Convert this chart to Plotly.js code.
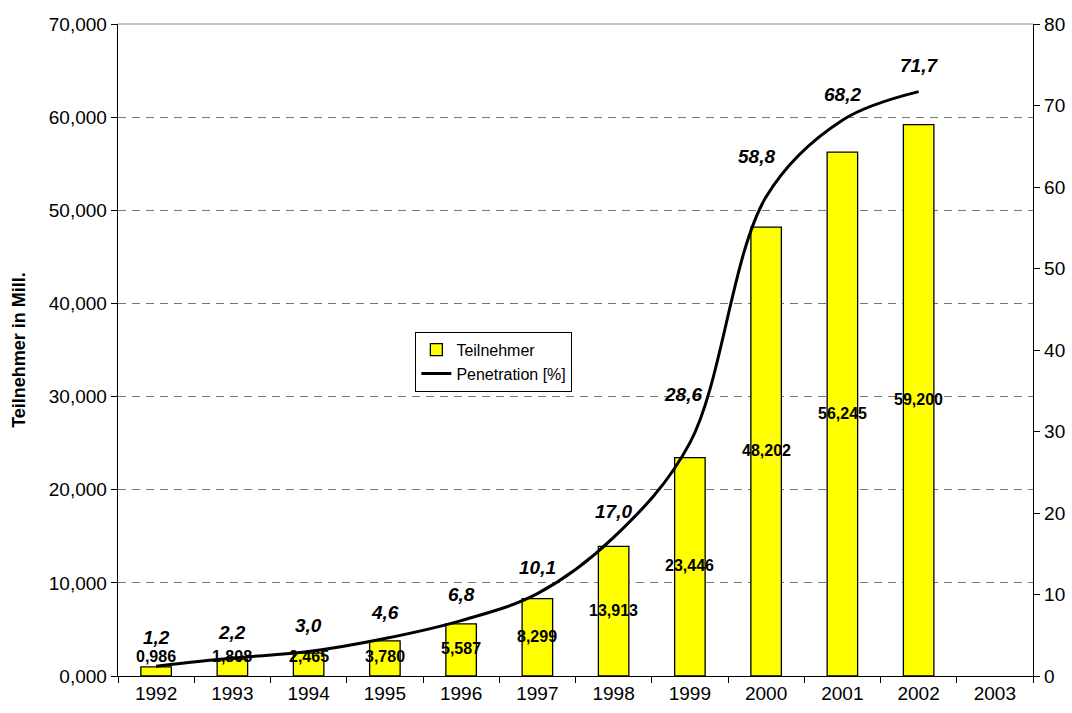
<!DOCTYPE html>
<html>
<head>
<meta charset="utf-8">
<script src="https://cdn.plot.ly/plotly-3.0.1.min.js"></script>
<style>html,body{margin:0;padding:0;background:#fff;}#chart{width:1072px;height:713px;}</style>
</head>
<body>
<div id="chart"></div>
<script>
const years = ['1992','1993','1994','1995','1996','1997','1998','1999','2000','2001','2002','2003'];
const subscribers = [0.986, 1.808, 2.465, 3.780, 5.587, 8.299, 13.913, 23.446, 48.202, 56.245, 59.200, null];
const penetration = [1.2, 2.2, 3.0, 4.6, 6.8, 10.1, 17.0, 28.6, 58.8, 68.2, 71.7, null];
const leftTicks = [0, 10, 20, 30, 40, 50, 60, 70];
const rightTicks = [0, 10, 20, 30, 40, 50, 60, 70, 80];

// label placement tweaks (pixels), styling only
const penLabelDx = [0, 0, 0, 0, 0, 0, 0, -7, -10, 0, 0];
const penLabelDy = [29, 26, 26, 26, 26, 26, 26, 48, 40, 26, 26];

const FONT = 'Liberation Sans, Arial, sans-serif';
const fmt = (v, d) => v.toFixed(d).replace('.', ',');

const bars = {
  type: 'bar', name: 'Teilnehmer', x: years, y: subscribers,
  marker: {color: '#ffff00', line: {color: '#000', width: 1.3}},
  width: 0.4, yaxis: 'y', hoverinfo: 'skip'
};
const line = {
  type: 'scatter', mode: 'lines', name: 'Penetration [%]', x: years, y: penetration,
  line: {color: '#000', width: 3, shape: 'spline', smoothing: 1},
  yaxis: 'y2', connectgaps: false, hoverinfo: 'skip'
};

const annotations = [];
subscribers.forEach((v, i) => {
  if (v == null) return;
  annotations.push({
    x: i, y: Math.max(v / 2, 2.0), xref: 'x', yref: 'y', showarrow: false,
    text: '<b>' + fmt(v, 3) + '</b>', yshift: 1,
    font: {family: FONT, size: 16, color: '#000'}
  });
});
penetration.forEach((v, i) => {
  if (v == null) return;
  annotations.push({
    x: i, y: v, xref: 'x', yref: 'y2', showarrow: false,
    text: '<b><i>' + fmt(v, 1) + '</i></b>', xshift: penLabelDx[i], yshift: penLabelDy[i],
    font: {family: FONT, size: 19, color: '#000'}
  });
});

const layout = {
  width: 1072, height: 713,
  margin: {l: 118, r: 39, t: 24, b: 37, pad: 0},
  paper_bgcolor: '#fff', plot_bgcolor: '#fff',
  separators: ',.',
  font: {family: FONT, size: 19, color: '#000'},
  showlegend: true,
  legend: {
    x: 0.325, y: 0.528, xanchor: 'left', yanchor: 'top',
    bgcolor: '#fff', bordercolor: '#000', borderwidth: 1,
    font: {family: FONT, size: 16, color: '#000'},
    tracegroupgap: 0, itemwidth: 30
  },
  xaxis: {
    type: 'category', categoryorder: 'array', categoryarray: years,
    range: [-0.5, 11.5],
    showline: true, linecolor: '#000', linewidth: 1.3,
    ticks: 'outside', ticklen: 6, tickcolor: '#000', tickson: 'boundaries',
    showgrid: false, zeroline: false,
    tickfont: {family: FONT, size: 19, color: '#000'}
  },
  yaxis: {
    range: [0, 70], tickvals: leftTicks, tickformat: '.3f',
    showline: true, linecolor: '#000', linewidth: 1.3,
    ticks: 'outside', ticklen: 6, tickcolor: '#000',
    showgrid: true, gridcolor: '#777', griddash: '8px,6px', gridwidth: 1,
    zeroline: false,
    tickfont: {family: FONT, size: 19, color: '#000'},
    title: {text: '<b>Teilnehmer in Mill.</b>', font: {family: FONT, size: 18, color: '#000'}, standoff: 18}
  },
  yaxis2: {
    range: [0, 80], tickvals: rightTicks, overlaying: 'y', side: 'right',
    showline: true, linecolor: '#000', linewidth: 1.3,
    ticks: 'outside', ticklen: 6, tickcolor: '#000',
    showgrid: false, zeroline: false,
    tickfont: {family: FONT, size: 19, color: '#000'}
  },
  shapes: [{type: 'line', xref: 'paper', yref: 'paper', x0: 0, x1: 1, y0: 1, y1: 1, line: {color: '#888', width: 1}}],
  annotations: annotations
};

Plotly.newPlot('chart', [bars, line], layout, {staticPlot: true, displayModeBar: false});
</script>
</body>
</html>
